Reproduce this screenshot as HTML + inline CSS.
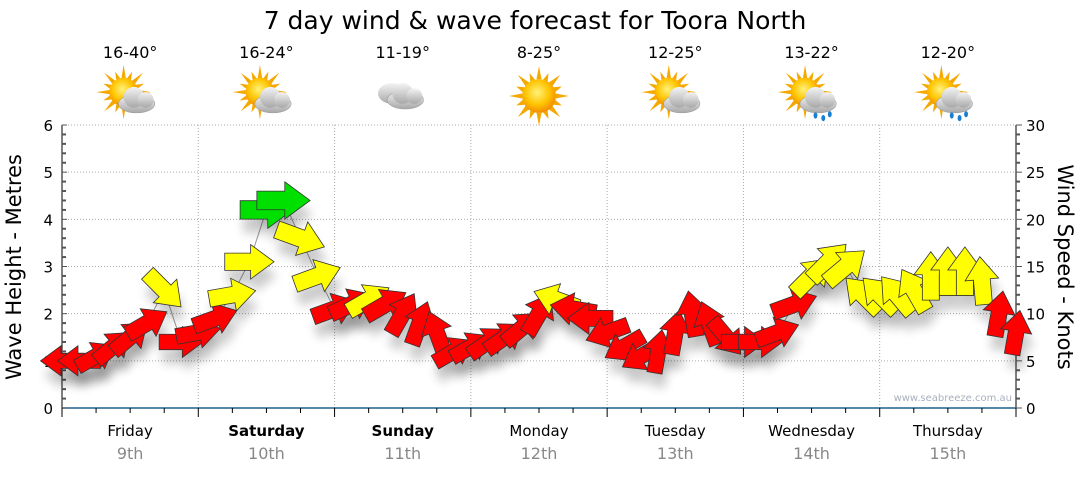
<!DOCTYPE html>
<html><head><meta charset="utf-8"><style>
body{margin:0;background:#fff;width:1080px;height:475px;overflow:hidden;font-family:"Liberation Sans","DejaVu Sans",sans-serif}
svg text{font-family:"DejaVu Sans","Liberation Sans",sans-serif}
</style></head><body>
<svg id="chart" width="1080" height="475" viewBox="0 0 1080 475" xmlns="http://www.w3.org/2000/svg">
<defs>
<filter id="sh" x="-50%" y="-50%" width="200%" height="200%"><feGaussianBlur stdDeviation="5"/></filter>
<radialGradient id="sun" cx="45%" cy="40%" r="60%"><stop offset="0" stop-color="#fff27a"/><stop offset="0.6" stop-color="#ffc400"/><stop offset="1" stop-color="#f08c00"/></radialGradient>
<linearGradient id="cloud" x1="0" y1="0" x2="0" y2="1"><stop offset="0" stop-color="#f4f4f4"/><stop offset="1" stop-color="#a8a8a8"/></linearGradient>
</defs>
<text x="535" y="29" font-size="25" text-anchor="middle" fill="#000">7 day wind &amp; wave forecast for Toora North</text>
<g id="grid"></g>
<g id="axes"></g>
<g id="icons"></g>
<g id="shadows"></g>
<g id="arrows"></g>
<text transform="translate(21,267) rotate(-90)" font-size="21" text-anchor="middle">Wave Height - Metres</text>
<text transform="translate(1058,267) rotate(90)" font-size="21" text-anchor="middle">Wind Speed - Knots</text>
<text x="1012" y="401" font-size="10" fill="#a8b0bc" text-anchor="end">www.seabreeze.com.au</text>
</svg>
<script>
const days=["Friday","Saturday","Sunday","Monday","Tuesday","Wednesday","Thursday"];
const dates=["9th","10th","11th","12th","13th","14th","15th"];
const boldDays=[false,true,true,false,false,false,false];
const temps=["16-40°","16-24°","11-19°","8-25°","12-25°","13-22°","12-20°"];
const icons=["partly","partly","cloudy","sunny","partly","rain","rain"];
const leftTicks=[0,1,2,3,4,5,6];
const rightTicks=[0,5,10,15,20,25,30];
const windKnots=[5,5,5.5,6.5,7.5,9,12.5,7,8,9.5,12,15.5,21,22,18,14,10.5,11,11.5,11,10,9,8,6,6.5,7,7.5,8.5,10,11.5,10.5,9.5,8,6.5,5.5,6,8,10,9,7.5,7,7,8,11,14,15.5,15,12,12,12,12.5,14,14.5,14.5,13.5,10,8];
const windDir=[180,180,-30,-40,-40,-30,45,0,-10,-20,-10,0,0,0,20,-20,-20,-25,-30,-30,-60,-70,-110,-30,-30,-35,-35,-40,-60,-160,-170,180,160,150,150,-80,-80,-100,-110,50,0,0,-20,-20,-45,-45,-40,-135,-135,-130,-120,-90,-90,-90,-95,-80,-80];

const NS="http://www.w3.org/2000/svg";
const X0=62,X1=1016,Y0=408,Y1=125;
const dayW=(X1-X0)/7;
const xOfHour=h=>X0+h/24*dayW;
const yWave=m=>Y0-m/6*(Y0-Y1);
const yKn=k=>Y0-k/30*(Y0-Y1);
function mk(tag,attrs,parent){const e=document.createElementNS(NS,tag);for(const k in attrs)e.setAttribute(k,attrs[k]);parent.appendChild(e);return e;}
const grid=document.getElementById('grid'),axes=document.getElementById('axes'),ic=document.getElementById('icons');
leftTicks.forEach(t=>{if(t>0){const l=mk('line',{x1:X0,x2:X1,y1:yWave(t),y2:yWave(t),stroke:'#aaa','stroke-dasharray':'1,2'},grid);

}});
for(let d=1;d<=7;d++){const x=X0+d*dayW;const l=mk('line',{x1:x,x2:x,y1:Y1,y2:Y0,stroke:'#aaa','stroke-dasharray':'1,2'},grid);

}
mk('line',{x1:X0,x2:X0,y1:Y1,y2:Y0,stroke:'#000'},axes);
mk('line',{x1:X1,x2:X1,y1:Y1,y2:Y0,stroke:'#000'},axes);
mk('line',{x1:X0,x2:X1,y1:Y0,y2:Y0,stroke:'#1f5f8b','stroke-width':1.5},axes);
for(let i=0;i<=30;i++){const y=yWave(i/5);mk('line',{x1:X0,x2:X0+(i%5==0?5:4),y1:y,y2:y,stroke:'#555','stroke-width':i%5==0?1:2},axes);
const y2=yKn(i);mk('line',{x1:X1,x2:X1+(i%5==0?6:4),y1:y2,y2:y2,stroke:'#555','stroke-width':i%5==0?1:2},axes);}
leftTicks.forEach(t=>{const e=mk('text',{x:X0-9,y:yWave(t)+6,'font-size':15,'text-anchor':'end'},axes);e.textContent=t;

});
rightTicks.forEach(t=>{const e=mk('text',{x:X1+10,y:yKn(t)+6,'font-size':15},axes);e.textContent=t;

});
for(let i=0;i<=28;i++){const x=X0+i*dayW/4;mk('line',{x1:x,x2:x,y1:Y0,y2:Y0+(i%4==0?9:5),stroke:'#000'},axes);}
days.forEach((d,i)=>{const cx=X0+(i+0.5)*dayW;
const t=mk('text',{x:cx,y:436,'font-size':15,'text-anchor':'middle','font-weight':boldDays[i]?'bold':'normal'},axes);t.textContent=d;


const t2=mk('text',{x:cx,y:459,'font-size':16,'text-anchor':'middle',fill:'#888'},axes);t2.textContent=dates[i];


const t3=mk('text',{x:cx,y:58,'font-size':16,'text-anchor':'middle'},ic);t3.textContent=temps[i];


const g=mk('g',{transform:`translate(${cx},96) scale(1.3)`},ic);


const k=icons[i];
if(k!=='cloudy'){const sx=k==='sunny'?0:-5,sy=k==='sunny'?0:-3,r=k==='sunny'?13:11;
for(let a=0;a<16;a++){const an=a*Math.PI/8,L=(a%2?r+6:r+10);mk('polygon',{points:`${sx+Math.cos(an-0.15)*r},${sy+Math.sin(an-0.15)*r} ${sx+Math.cos(an)*L},${sy+Math.sin(an)*L} ${sx+Math.cos(an+0.15)*r},${sy+Math.sin(an+0.15)*r}`,fill:'#f5a800'},g);}
mk('circle',{cx:sx,cy:sy,r:r,fill:'url(#sun)'},g);}
if(k!=='sunny'){const ox=k==='cloudy'?2:5,oy=k==='cloudy'?0:3;
if(k==='cloudy'){mk('ellipse',{cx:-8,cy:-2,rx:11,ry:8,fill:'url(#cloud)'},g);}
mk('ellipse',{cx:ox,cy:oy+3,rx:14,ry:7,fill:'url(#cloud)',stroke:'#999','stroke-width':0.4},g);
mk('circle',{cx:ox-2,cy:oy-2,r:8,fill:'url(#cloud)'},g);
mk('circle',{cx:ox+7,cy:oy,r:6,fill:'url(#cloud)'},g);
if(k==='rain'){[[-2,12],[4,14],[9,11]].forEach(p=>mk('ellipse',{cx:ox+p[0],cy:oy+p[1],rx:1.5,ry:2.4,fill:'#1a7fd0'},g));}}
});
const sh=document.getElementById('shadows'),ar=document.getElementById('arrows');
let pts=[];
windKnots.forEach((kn,i)=>{const x=xOfHour(i*3),y=yKn(kn);pts.push(x+','+y);});
const pl=mk('polyline',{points:pts.join(' '),stroke:'#999','stroke-width':1,fill:'none'},document.getElementById('chart'));


document.getElementById('chart').insertBefore(pl,sh);
windKnots.forEach((kn,i)=>{const x=xOfHour(i*3),y=yKn(kn);
const L=40+kn*0.6,s=L/40;const col=kn<11.2?'#ff0000':(kn<18.5?'#ffff00':'#00e000');
const path=`M${-20*s},${-7*s} L${1*s},${-7*s} L${1*s},${-14*s} L${20*s},0 L${1*s},${14*s} L${1*s},${7*s} L${-20*s},${7*s} Z`;
const s1=mk('path',{d:path,fill:'#000',opacity:0.2,filter:'url(#sh)',transform:`translate(${x+3},${y+14}) rotate(${windDir[i]})`},sh);


const a=mk('path',{d:path,fill:col,stroke:'#333','stroke-width':0.8,transform:`translate(${x},${y}) rotate(${windDir[i]})`},ar);


});
</script>
</body></html>
